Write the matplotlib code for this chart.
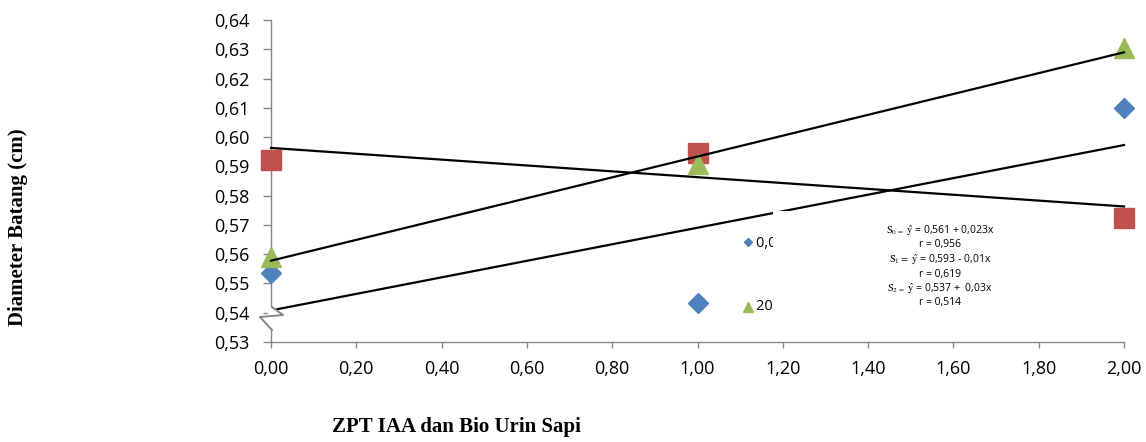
import numpy as np
import matplotlib
matplotlib.use("Agg")
import matplotlib.pyplot as plt
from matplotlib.lines import Line2D
from matplotlib.patches import Rectangle
from matplotlib.ticker import FuncFormatter

# ---- data ----
x_levels = [0.0, 1.0, 2.0]
s0_values = [0.5536, 0.5434, 0.6101]   # blue diamonds
s1_values = [0.5922, 0.5945, 0.5722]   # red squares
s2_values = [0.5591, 0.5907, 0.6303]   # green triangles
x_ticks = [0.0, 0.2, 0.4, 0.6, 0.8, 1.0, 1.2, 1.4, 1.6, 1.8, 2.0]
y_ticks = [0.53, 0.54, 0.55, 0.56, 0.57, 0.58, 0.59, 0.60, 0.61, 0.62, 0.63, 0.64]
legend_labels = ["0,0 ml/l", "20 ml/l"]
equations = [r"$\mathrm{S}_{0\,=}$ $\hat{\mathrm{y}}$ = 0,561 + 0,023x", "r = 0,956",
             r"$\mathrm{S}_1 =$ $\hat{\mathrm{y}}$ = 0,593 - 0,01x", "r = 0,619",
             r"$\mathrm{S}_{2\,=}$ $\hat{\mathrm{y}}$ = 0,537 +  0,03x", "r = 0,514"]
x_label = "ZPT IAA dan Bio Urin Sapi"
y_label = "Diameter Batang (cm)"

plt.rcParams['mathtext.fontset'] = 'stix'
W, H = 1146, 442
fig = plt.figure(figsize=(W / 100, H / 100), dpi=100)

def fx(px):
    return px / W

def fy(py):
    return 1 - py / H

ax = fig.add_axes([fx(271), fy(342), (1124 - 271) / W, (342 - 20) / H])
ax.set_xlim(0, 2)
ax.set_ylim(0.53, 0.64)

blue, red, green = '#4F81BD', '#C0504D', '#9BBB59'
ax.plot(x_levels, s0_values, ls='none', marker='D', ms=10, color=blue, clip_on=False, zorder=3)
ax.plot(x_levels, s1_values, ls='none', marker='s', ms=14.4, color=red, clip_on=False, zorder=3)
ax.plot(x_levels, s2_values, ls='none', marker='^', ms=14.4, color=green, clip_on=False, zorder=3)

xx = np.array([0.0, 2.0])
for vals in (s0_values, s1_values, s2_values):
    b, a = np.polyfit(x_levels, vals, 1)
    ax.plot(xx, a + b * xx, color='black', lw=1.6, zorder=4, clip_on=False)

for side in ('top', 'right'):
    ax.spines[side].set_visible(False)
for side in ('left', 'bottom'):
    ax.spines[side].set_color('#868686')
    ax.spines[side].set_linewidth(1.0)

ax.set_xticks(x_ticks)
ax.set_yticks(y_ticks)
ax.xaxis.set_major_formatter(FuncFormatter(lambda v, p: f"{v:.2f}".replace('.', ',')))
ax.yaxis.set_major_formatter(FuncFormatter(lambda v, p: f"{v:.2f}".replace('.', ',')))
ax.tick_params(axis='y', direction='out', length=5.5, width=1, color='#868686', pad=10,
               labelsize=13, labelcolor='black')
ax.tick_params(axis='x', direction='out', length=4, width=1, color='#868686', pad=9,
               labelsize=13, labelcolor='black')
for lab in ax.get_xticklabels() + ax.get_yticklabels():
    lab.set_fontfamily('Open Sans')

# axis break on y axis
fig.add_artist(Rectangle((fx(268), fy(330)), 8 / W, 23 / H, transform=fig.transFigure,
                         facecolor='white', edgecolor='none', zorder=5))
zx = [272, 283, 260, 272]
zy = [307, 315, 317, 330]
fig.add_artist(Line2D([fx(v) for v in zx], [fy(v) for v in zy], transform=fig.transFigure,
                      color='#868686', lw=1.4, zorder=6))

# legend fragments
fig.add_artist(Line2D([fx(748)], [fy(242)], transform=fig.transFigure, marker='D', ms=4.5,
                      color=blue, ls='none', zorder=4))
fig.add_artist(Line2D([fx(748)], [fy(307)], transform=fig.transFigure, marker='^', ms=6.5,
                      color=green, ls='none', zorder=4))
fig.text(fx(756), fy(243), legend_labels[0], fontsize=10.5, family='Open Sans', va='center', zorder=4)
fig.text(fx(756), fy(307), legend_labels[1], fontsize=10.5, family='Open Sans', va='center', zorder=4)

# equation box
fig.add_artist(Rectangle((fx(773), fy(326)), (1095 - 773) / W, (326 - 211) / H,
                         transform=fig.transFigure, facecolor='white', edgecolor='none', zorder=5))
eq_y = [231, 245, 260, 274, 289, 303]
for t, yy in zip(equations, eq_y):
    fig.text(fx(940), fy(yy), t, fontsize=7.5, family='Open Sans', ha='center', va='center', zorder=6)

fig.text(fx(456), fy(427), x_label, fontsize=15, family='Liberation Serif', weight='bold',
         ha='center', va='center')
fig.text(fx(18), fy(227), y_label, fontsize=15, family='Liberation Serif', weight='bold',
         ha='center', va='center', rotation=90)

fig.savefig('out.png', dpi=100)
